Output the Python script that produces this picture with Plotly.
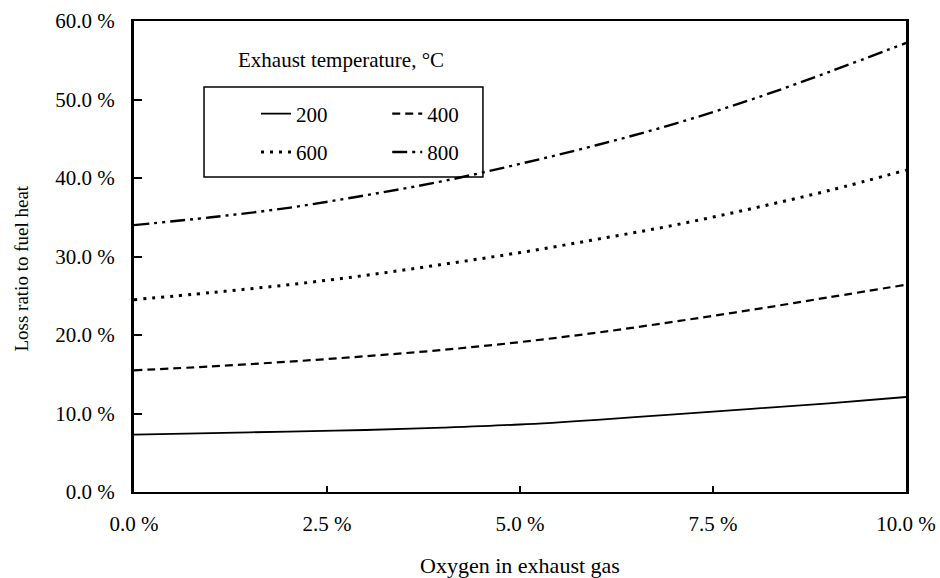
import plotly.graph_objects as go

# Oxygen in exhaust gas (%)
oxygen = [0, 1, 2, 3, 4, 5, 6, 7, 8, 9, 10]

# Loss ratio to fuel heat (%) for each exhaust temperature (°C)
loss_200 = [7.3, 7.5, 7.7, 7.9, 8.2, 8.6, 9.2, 9.9, 10.6, 11.3, 12.1]
loss_400 = [15.5, 16.0, 16.6, 17.3, 18.1, 19.1, 20.3, 21.7, 23.2, 24.8, 26.4]
loss_600 = [24.5, 25.4, 26.4, 27.6, 29.0, 30.5, 32.2, 34.0, 36.1, 38.4, 41.0]
loss_800 = [34.0, 35.0, 36.2, 37.8, 39.6, 41.8, 44.2, 46.9, 50.0, 53.5, 57.2]

x_ticks = [0, 2.5, 5, 7.5, 10]
x_tick_labels = ["0.0 %", "2.5 %", "5.0 %", "7.5 %", "10.0 %"]
y_ticks = [0, 10, 20, 30, 40, 50, 60]
y_tick_labels = ["0.0 %", "10.0 %", "20.0 %", "30.0 %", "40.0 %", "50.0 %", "60.0 %"]

FONT = "Liberation Serif, Times New Roman, serif"

series = [
    ("200", loss_200, "solid", 1.8, "legend", "g1"),
    ("400", loss_400, "8px,5px", 2.2, "legend2", "g2"),
    ("600", loss_600, "3px,6px", 3.0, "legend", "g3"),
    ("800", loss_800, "15px,5px,3px,5px,3px,5px", 2.4, "legend2", "g4"),
]

fig = go.Figure()
for name, vals, dash, w, leg, grp in series:
    fig.add_trace(go.Scatter(
        x=oxygen, y=vals, mode="lines", name=name,
        line=dict(color="black", width=w, dash=dash, shape="spline"),
        legend=leg, legendgroup=grp,
    ))

legend_common = dict(
    font=dict(family=FONT, size=21, color="black"),
    bgcolor="rgba(0,0,0,0)", borderwidth=0,
    xref="paper", yref="paper", xanchor="left", yanchor="top",
    tracegroupgap=8,
)

fig.update_layout(
    width=940, height=578,
    margin=dict(l=134, r=34, t=21, b=86, autoexpand=False),
    paper_bgcolor="white", plot_bgcolor="white",
    font=dict(family=FONT, size=21, color="black"),
    showlegend=True,
    legend=dict(x=0.158, y=0.846, **legend_common),
    legend2=dict(x=0.328, y=0.846, **legend_common),
    xaxis=dict(
        range=[0, 10], tickvals=x_ticks, ticktext=x_tick_labels,
        ticks="inside", ticklen=6, tickwidth=1.5, tickcolor="black",
        showline=True, linecolor="black", linewidth=1.5, mirror=True,
        showgrid=False, zeroline=False, ticklabelstandoff=12, automargin=False,
        title=dict(text="Oxygen in exhaust gas", font=dict(size=22), standoff=26),
    ),
    yaxis=dict(
        range=[0, 60], tickvals=y_ticks, ticktext=y_tick_labels,
        ticks="inside", ticklen=8, tickwidth=1.5, tickcolor="black",
        showline=True, linecolor="black", linewidth=3, mirror=True,
        showgrid=False, zeroline=False, ticklabelstandoff=12, automargin=False,
    ),
    shapes=[dict(
        type="rect", xref="paper", yref="paper",
        x0=0.0907, x1=0.452, y0=0.669, y1=0.860,
        line=dict(color="black", width=1.5), fillcolor="rgba(0,0,0,0)",
    )],
    annotations=[
        dict(text="Exhaust temperature, °C", xref="paper", yref="paper",
             x=0.268, y=0.917, showarrow=False, xanchor="center", yanchor="middle",
             font=dict(family=FONT, size=21, color="black")),
        dict(text="Loss ratio to fuel heat", xref="paper", yref="paper",
             x=-0.146, y=0.475, showarrow=False, textangle=-90,
             xanchor="center", yanchor="middle",
             font=dict(family=FONT, size=19, color="black")),
    ],
)

fig.write_html("out.html")
